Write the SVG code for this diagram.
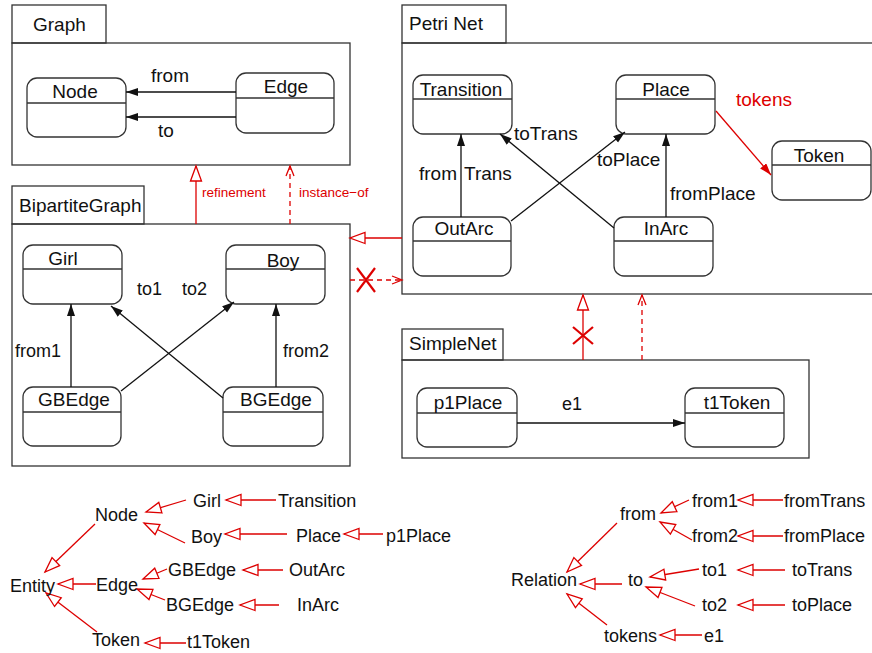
<svg xmlns="http://www.w3.org/2000/svg" width="872" height="653" viewBox="0 0 872 653">
<style>
text{font-family:"Liberation Sans",Arial,sans-serif;font-size:19px;fill:#111}
.lbl{text-anchor:middle}
.sm{font-size:13.5px;fill:#dd0000}
.tr{font-size:18px}
.red{fill:#dd0000}
.pkg{fill:none;stroke:#333;stroke-width:1.3}
.box{fill:#fff;stroke:#333;stroke-width:1.3}
.div{stroke:#333;stroke-width:1.3}
.edge{fill:none;stroke:#111;stroke-width:1.3;marker-end:url(#filled)}
.rl{fill:none;stroke:#dd0000;stroke-width:1.3}
.gen{marker-end:url(#hollow)}
.dash{stroke-dasharray:5,4;marker-end:url(#open)}
.x{stroke:#dd0000;stroke-width:2.2}
</style>
<defs>
<marker id="filled" markerUnits="userSpaceOnUse" markerWidth="14" markerHeight="10" refX="12" refY="4" orient="auto"><path d="M0,0 L12,4 L0,8 z" fill="#111"/></marker>
<marker id="rfilled" markerUnits="userSpaceOnUse" markerWidth="14" markerHeight="10" refX="12" refY="4" orient="auto"><path d="M0,0 L12,4 L0,8 z" fill="#dd0000"/></marker>
<marker id="hollow" markerUnits="userSpaceOnUse" markerWidth="18" markerHeight="14" refX="15" refY="5.5" orient="auto" overflow="visible"><path d="M0,0 L15,5.5 L0,11 z" fill="#fff" stroke="#dd0000" stroke-width="1.3"/></marker>
<marker id="open" markerUnits="userSpaceOnUse" markerWidth="12" markerHeight="10" refX="10" refY="4" orient="auto" overflow="visible"><path d="M0,0 L10,4 L0,8" fill="none" stroke="#dd0000" stroke-width="1.3"/></marker>
</defs>

<!-- Packages -->
<g id="pkg-graph">
<rect class="pkg" x="12" y="5" width="94" height="38"/>
<rect class="pkg" x="12" y="43" width="338" height="122"/>
<text x="33" y="31">Graph</text>
</g>
<g id="pkg-petri">
<rect class="pkg" x="402" y="5" width="104" height="38"/>
<rect class="pkg" x="402" y="43" width="490" height="251"/>
<text x="409" y="30">Petri Net</text>
</g>
<g id="pkg-bipartite">
<rect class="pkg" x="12" y="186" width="132" height="38"/>
<rect class="pkg" x="12" y="224" width="338" height="242"/>
<text x="19" y="212">BipartiteGraph</text>
</g>
<g id="pkg-simplenet">
<rect class="pkg" x="402" y="329" width="101" height="31"/>
<rect class="pkg" x="402" y="360" width="407" height="98"/>
<text x="409" y="350">SimpleNet</text>
</g>

<!-- Class nodes -->
<g id="node-Node"><rect class="box" x="27" y="78" width="99" height="59" rx="10"/><line class="div" x1="27" y1="103" x2="126" y2="103"/><text class="lbl" x="75" y="98">Node</text></g>
<g id="node-Edge"><rect class="box" x="236" y="73" width="98" height="60" rx="10"/><line class="div" x1="236" y1="98" x2="334" y2="98"/><text class="lbl" x="286" y="93">Edge</text></g>
<g id="node-Transition"><rect class="box" x="413" y="75" width="99" height="59" rx="10"/><line class="div" x1="413" y1="99" x2="512" y2="99"/><text class="lbl" x="461" y="96">Transition</text></g>
<g id="node-Place"><rect class="box" x="616" y="75" width="99" height="59" rx="10"/><line class="div" x1="616" y1="99" x2="715" y2="99"/><text class="lbl" x="666" y="96">Place</text></g>
<g id="node-Token"><rect class="box" x="772" y="141" width="99" height="59" rx="10"/><line class="div" x1="772" y1="165" x2="871" y2="165"/><text class="lbl" x="819" y="162">Token</text></g>
<g id="node-OutArc"><rect class="box" x="413" y="217" width="98" height="59" rx="10"/><line class="div" x1="413" y1="241" x2="511" y2="241"/><text class="lbl" x="464" y="235">OutArc</text></g>
<g id="node-InArc"><rect class="box" x="614" y="217" width="99" height="59" rx="10"/><line class="div" x1="614" y1="241" x2="713" y2="241"/><text class="lbl" x="666" y="235">InArc</text></g>
<g id="node-Girl"><rect class="box" x="23" y="245" width="99" height="59" rx="10"/><line class="div" x1="23" y1="269" x2="122" y2="269"/><text class="lbl" x="63" y="265">Girl</text></g>
<g id="node-Boy"><rect class="box" x="226" y="245" width="99" height="59" rx="10"/><line class="div" x1="226" y1="269" x2="325" y2="269"/><text class="lbl" x="283" y="267">Boy</text></g>
<g id="node-GBEdge"><rect class="box" x="23" y="387" width="98" height="59" rx="10"/><line class="div" x1="23" y1="412" x2="121" y2="412"/><text class="lbl" x="74" y="406">GBEdge</text></g>
<g id="node-BGEdge"><rect class="box" x="223" y="387" width="100" height="59" rx="10"/><line class="div" x1="223" y1="412" x2="323" y2="412"/><text class="lbl" x="276" y="406">BGEdge</text></g>
<g id="node-p1Place"><rect class="box" x="417" y="388" width="100" height="59" rx="10"/><line class="div" x1="417" y1="413" x2="517" y2="413"/><text class="lbl" x="468" y="409">p1Place</text></g>
<g id="node-t1Token"><rect class="box" x="685" y="388" width="99" height="59" rx="10"/><line class="div" x1="685" y1="413" x2="784" y2="413"/><text class="lbl" x="737" y="409">t1Token</text></g>

<!-- Connectors -->
<g id="connectors">
<line class="edge" x1="236" y1="92" x2="126" y2="92"/>
<line class="edge" x1="236" y1="117" x2="126" y2="117"/>
<text x="151" y="82">from</text>
<text x="158" y="137">to</text>

<line class="edge" x1="461" y1="217" x2="461" y2="134"/>
<line class="edge" x1="666" y1="217" x2="666" y2="134"/>
<line class="edge" x1="511" y1="221" x2="625" y2="132"/>
<line class="edge" x1="614" y1="228" x2="500" y2="134"/>
<text x="514" y="140">toTrans</text>
<text x="419" y="180">from</text>
<text x="464" y="180">Trans</text>
<text x="597" y="166">toPlace</text>
<text x="670" y="200">fromPlace</text>
<line x1="716" y1="111" x2="771" y2="175" stroke="#dd0000" stroke-width="1.3" marker-end="url(#rfilled)"/>
<text x="736" y="106" class="red">tokens</text>

<line class="edge" x1="71" y1="387" x2="71" y2="304"/>
<line class="edge" x1="276" y1="387" x2="276" y2="304"/>
<line class="edge" x1="121" y1="391" x2="234" y2="302"/>
<line class="edge" x1="223" y1="398" x2="111" y2="306"/>
<text x="137" y="295" class="tr">to1</text>
<text x="182" y="295" class="tr">to2</text>
<text x="15" y="357" class="tr">from1</text>
<text x="283" y="357" class="tr">from2</text>

<line class="edge" x1="517" y1="423" x2="685" y2="423"/>
<text x="562" y="410" class="tr">e1</text>

<line class="rl gen" x1="196" y1="224" x2="196" y2="166"/>
<line class="rl dash" x1="290" y1="224" x2="290" y2="166"/>
<text x="202" y="197" class="sm">refinement</text>
<text x="299" y="197" class="sm">instance−of</text>

<line class="rl gen" x1="402" y1="238" x2="350" y2="238"/>
<line class="rl dash" x1="350" y1="280" x2="402" y2="280"/>
<line class="x" x1="357" y1="268" x2="375" y2="292"/>
<line class="x" x1="375" y1="268" x2="357" y2="292"/>

<line class="rl gen" x1="583" y1="360" x2="583" y2="295"/>
<line class="rl dash" x1="642" y1="360" x2="642" y2="295"/>
<line class="x" x1="573" y1="327" x2="593" y2="344"/>
<line class="x" x1="593" y1="327" x2="573" y2="344"/>

<!-- left tree -->
<line class="rl gen" x1="186" y1="500" x2="146" y2="512"/>
<line class="rl gen" x1="276" y1="500" x2="226" y2="500"/>
<line class="rl gen" x1="185" y1="543" x2="144" y2="523"/>
<line class="rl gen" x1="287" y1="534" x2="225" y2="534"/>
<line class="rl gen" x1="383" y1="534" x2="344" y2="534"/>
<line class="rl gen" x1="95" y1="524" x2="45" y2="572"/>
<line class="rl gen" x1="96" y1="584" x2="58" y2="584"/>
<line class="rl gen" x1="167" y1="569" x2="143" y2="579"/>
<line class="rl gen" x1="165" y1="600" x2="137" y2="589"/>
<line class="rl gen" x1="283" y1="570" x2="243" y2="570"/>
<line class="rl gen" x1="279" y1="605" x2="240" y2="605"/>
<line class="rl gen" x1="97" y1="632" x2="46" y2="593"/>
<line class="rl gen" x1="186" y1="643" x2="145" y2="643"/>
<text x="95" y="521" class="tr">Node</text>
<text x="193" y="507" class="tr">Girl</text>
<text x="278" y="507" class="tr">Transition</text>
<text x="191" y="543" class="tr">Boy</text>
<text x="296" y="542" class="tr">Place</text>
<text x="386" y="542" class="tr">p1Place</text>
<text x="168" y="576" class="tr">GBEdge</text>
<text x="289" y="576" class="tr">OutArc</text>
<text x="10" y="592" class="tr">Entity</text>
<text x="96" y="591" class="tr">Edge</text>
<text x="166" y="611" class="tr">BGEdge</text>
<text x="297" y="611" class="tr">InArc</text>
<text x="92" y="646" class="tr">Token</text>
<text x="187" y="648" class="tr">t1Token</text>

<!-- right tree -->
<line class="rl gen" x1="689" y1="500" x2="661" y2="513"/>
<line class="rl gen" x1="783" y1="500" x2="738" y2="500"/>
<line class="rl gen" x1="692" y1="540" x2="660" y2="522"/>
<line class="rl gen" x1="783" y1="536" x2="738" y2="536"/>
<line class="rl gen" x1="617" y1="523" x2="567" y2="572"/>
<line class="rl gen" x1="622" y1="584" x2="580" y2="584"/>
<line class="rl gen" x1="699" y1="569" x2="650" y2="577"/>
<line class="rl gen" x1="695" y1="606" x2="646" y2="587"/>
<line class="rl gen" x1="785" y1="570" x2="738" y2="570"/>
<line class="rl gen" x1="785" y1="605" x2="738" y2="605"/>
<line class="rl gen" x1="607" y1="625" x2="567" y2="594"/>
<line class="rl gen" x1="702" y1="635" x2="660" y2="635"/>
<text x="620" y="520" class="tr">from</text>
<text x="692" y="507" class="tr">from1</text>
<text x="784" y="507" class="tr">fromTrans</text>
<text x="692" y="542" class="tr">from2</text>
<text x="784" y="542" class="tr">fromPlace</text>
<text x="511" y="586" class="tr">Relation</text>
<text x="628" y="586" class="tr">to</text>
<text x="702" y="576" class="tr">to1</text>
<text x="792" y="576" class="tr">toTrans</text>
<text x="702" y="611" class="tr">to2</text>
<text x="792" y="611" class="tr">toPlace</text>
<text x="604" y="642" class="tr">tokens</text>
<text x="704" y="642" class="tr">e1</text>
</g>
</svg>
